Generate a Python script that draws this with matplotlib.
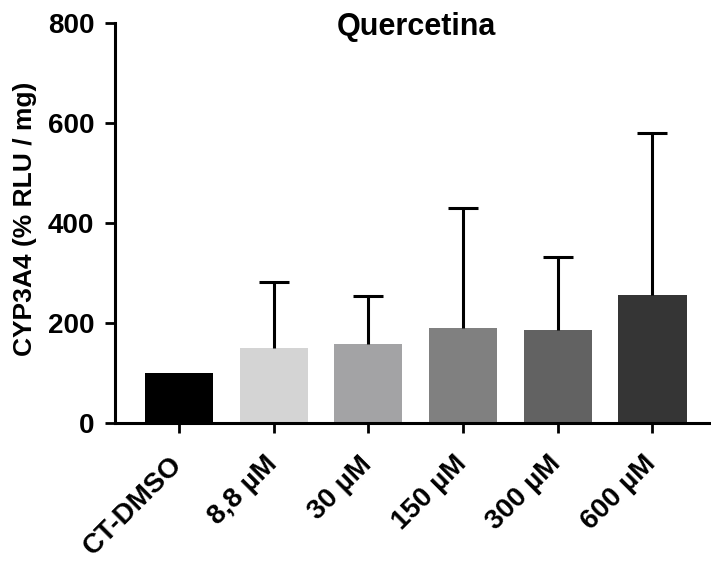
import matplotlib
matplotlib.use("Agg")
import matplotlib.pyplot as plt
import matplotlib.transforms as mtransforms
import numpy as np

categories = ["CT-DMSO", "8,8 µM", "30 µM", "150 µM", "300 µM", "600 µM"]
means = [100, 150, 158, 190, 186, 257]
sd_upper = [0, 133, 96, 240, 146, 322]
colors = ["#000000", "#d4d4d4", "#a3a3a5", "#808080", "#626262", "#353535"]
yticks = [0, 200, 400, 600, 800]
title = "Quercetina"
ylabel = "CYP3A4 (% RLU / mg)"

plt.rcParams['font.family'] = ['Liberation Sans', 'DejaVu Sans']

W, H = 711, 567
fig = plt.figure(figsize=(W / 100, H / 100), dpi=100)
ax = fig.add_axes([115 / W, 1 - 423.3 / H, (W - 115) / W, (423.3 - 22.7) / H])

x = np.arange(len(categories))
ax.bar(x, means, width=0.72, color=colors, zorder=2)
eb = ax.errorbar(x[1:], means[1:], yerr=[np.zeros(len(x) - 1), sd_upper[1:]],
                 fmt='none', ecolor='black', elinewidth=2.2, capsize=11,
                 capthick=2.2, zorder=3)
# keep only the upper caps
eb[1][0].set_visible(False)

ax.set_xlim(-0.676, 5.618)
ax.set_ylim(0, 800)
ax.set_yticks(yticks)
ax.set_yticklabels([str(v) for v in yticks], fontsize=20, fontweight='bold')
ax.set_xticks(x)
ax.set_xticklabels(categories, fontsize=20, fontweight='bold', rotation=45,
                   ha='right', va='top', rotation_mode='anchor')
for s in ['top', 'right']:
    ax.spines[s].set_visible(False)
for s in ['left', 'bottom']:
    ax.spines[s].set_linewidth(2.2)
ax.tick_params(axis='both', length=7, width=2)
ax.tick_params(axis='y', pad=8)
ax.tick_params(axis='x', pad=13)
shift = mtransforms.ScaledTranslation(-10 / 100, 0, fig.dpi_scale_trans)
for lbl in ax.get_xticklabels():
    lbl.set_transform(lbl.get_transform() + shift)

ax.set_ylabel(ylabel, fontsize=19, fontweight='bold')
ax.yaxis.set_label_coords(-0.131, 0.511)
fig.text(416.7 / W, 1 - 27 / H, title, fontsize=22, ha='center', va='center',
         fontweight='bold')

fig.savefig("out.png", dpi=100)
